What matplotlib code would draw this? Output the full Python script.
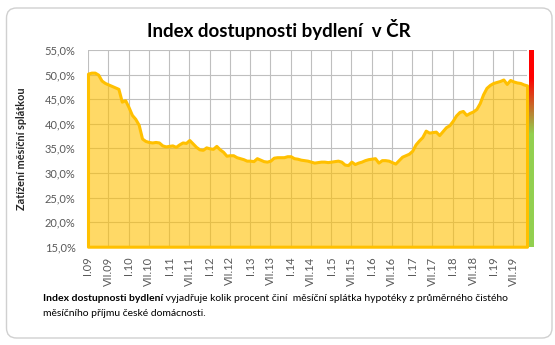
import numpy as np
import matplotlib
matplotlib.use("Agg")
import matplotlib.pyplot as plt
from matplotlib.colors import LinearSegmentedColormap
from matplotlib.patches import FancyBboxPatch

plt.rcParams['font.family'] = ['Lato', 'DejaVu Sans']

# měsíční hodnoty indexu (%), I.09 - XI.19
idx_2009 = [50.2, 50.4, 50.4, 50.0, 48.8, 48.3, 48.0, 47.7, 47.4, 47.1, 44.5, 44.8]
idx_2010 = [43.4, 41.8, 41.0, 39.8, 37.0, 36.5, 36.3, 36.2, 36.3, 36.2, 35.6, 35.4]
idx_2011 = [35.5, 35.6, 35.3, 35.8, 36.2, 36.1, 36.7, 36.0, 35.3, 34.8, 34.7, 35.2]
idx_2012 = [35.0, 34.9, 35.5, 34.8, 34.3, 33.5, 33.6, 33.6, 33.2, 33.0, 32.8, 32.5]
idx_2013 = [32.5, 32.4, 33.0, 32.7, 32.4, 32.3, 32.5, 33.1, 33.2, 33.2, 33.2, 33.4]
idx_2014 = [33.4, 33.0, 32.9, 32.7, 32.6, 32.5, 32.3, 32.1, 32.2, 32.3, 32.3, 32.2]
idx_2015 = [32.3, 32.4, 32.5, 32.3, 31.7, 31.6, 32.3, 31.8, 32.1, 32.3, 32.6, 32.8]
idx_2016 = [32.9, 33.0, 32.1, 32.6, 32.6, 32.5, 32.2, 31.9, 32.6, 33.3, 33.6, 33.9]
idx_2017 = [34.5, 35.8, 36.6, 37.3, 38.6, 38.2, 38.3, 38.4, 37.7, 38.5, 39.3, 39.7]
idx_2018 = [40.6, 41.7, 42.4, 42.6, 41.8, 42.2, 42.5, 43.0, 44.2, 46.0, 47.3, 47.9]
idx_2019 = [48.3, 48.5, 48.7, 49.0, 48.1, 48.9, 48.6, 48.4, 48.3, 48.0, 47.8]

index_values = (idx_2009 + idx_2010 + idx_2011 + idx_2012 + idx_2013 + idx_2014
                + idx_2015 + idx_2016 + idx_2017 + idx_2018 + idx_2019)

tick_labels = ['I.09', 'VII.09', 'I.10', 'VII.10', 'I.11', 'VII.11', 'I.12', 'VII.12',
               'I.13', 'VII.13', 'I.14', 'VII.14', 'I.15', 'VII.15', 'I.16', 'VII.16',
               'I.17', 'VII.17', 'I.18', 'VII.18', 'I.19', 'VII.19']
y_ticks = [15, 20, 25, 30, 35, 40, 45, 50, 55]

W, H = 555, 345
fig = plt.figure(figsize=(W / 100, H / 100), dpi=100)

# rámeček grafu
frame = FancyBboxPatch((6.5 / W, 1 - 338 / H), (552 - 6.5) / W, (338 - 8) / H,
                       boxstyle="round,pad=0,rounding_size=0.018",
                       mutation_aspect=W / H, transform=fig.transFigure,
                       facecolor='none', edgecolor='#D0D0D0', lw=1.0, zorder=-10)
fig.patches.append(frame)

ax = fig.add_axes([88 / W, 1 - 246.7 / H, (527 - 88) / W, (246.7 - 50) / H])
x = np.arange(len(index_values))
ax.fill_between(x, 15, index_values, facecolor=(1, 0.753, 0, 0.6),
                edgecolor='#FFC000', lw=2.2, clip_on=False, zorder=3)

ax.set_xlim(0, len(index_values) - 1)
ax.set_ylim(15, 55)
ax.set_yticks(y_ticks)
ax.set_yticklabels([f"{v:.1f}%".replace('.', ',') for v in y_ticks])
ax.set_xticks(np.arange(0, 6 * len(tick_labels), 6))
ax.set_xticklabels(tick_labels, rotation=90)
ax.tick_params(length=0, labelsize=8, colors='#595959')
ax.tick_params(axis='y', pad=9)
ax.tick_params(axis='x', pad=7)
ax.grid(True, color='#BFBFBF', lw=0.8, zorder=1)
ax.set_axisbelow(True)
for s in ax.spines.values():
    s.set_visible(False)

ax.set_ylabel('Zatížení měsíční splátkou', fontsize=7.8, fontweight='bold', color='#262626')
ax.yaxis.set_label_coords(-0.139, 0.5)

# barevná škála vpravo
cmap = LinearSegmentedColormap.from_list(
    'scale', [(0, '#92D050'), (0.575, '#92D050'), (0.8625, '#FF0000'), (1, '#FF0000')])
cax = fig.add_axes([529 / W, 1 - 246.7 / H, 5 / W, (246.7 - 50) / H])
cax.imshow(np.linspace(1, 0, 200).reshape(-1, 1), aspect='auto', cmap=cmap,
           extent=[0, 1, 15, 55])
cax.axis('off')

fig.text(0.503, 1 - 29 / H, 'Index dostupnosti bydlení  v ČR', ha='center', va='center',
         fontsize=13.5, fontweight='bold')

t1 = fig.text(43 / W, 1 - 303 / H, 'Index dostupnosti bydlení', fontsize=7.5,
              fontweight='bold', va='bottom')
fig.text(0, 0, ' vyjadřuje kolik procent činí  měsíční splátka hypotéky z průměrného čistého',
         fontsize=7.5, va='bottom')
txt2 = fig.texts[-1]
fig.canvas.draw()
bb = t1.get_window_extent()
txt2.set_position((bb.x1 / W, bb.y0 / H))
fig.text(43 / W, 1 - 318 / H, 'měsíčního příjmu české domácnosti.', fontsize=7.5, va='bottom')

fig.savefig('out.png', dpi=100)
